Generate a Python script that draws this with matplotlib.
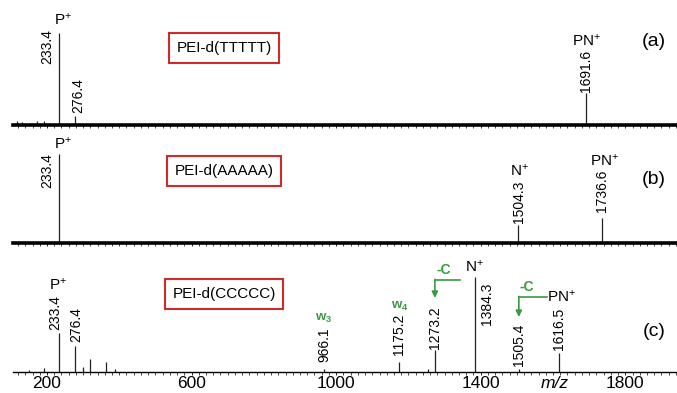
import matplotlib
matplotlib.use('Agg')
import matplotlib.pyplot as plt
from matplotlib.ticker import MultipleLocator, FixedLocator

plt.rcParams['font.family'] = ['Liberation Sans', 'DejaVu Sans']
plt.rcParams['mathtext.fontset'] = 'custom'
plt.rcParams['mathtext.rm'] = 'Liberation Sans'
plt.rcParams['mathtext.it'] = 'Liberation Sans:italic'
plt.rcParams['mathtext.default'] = 'regular'

# ── Data (m/z, relative intensity) ───────────────────────────────────────────
mz_a  = [117, 131, 172, 192, 233.4, 276.4, 1691.6]
int_a = [4, 3, 4, 4, 92, 9, 32]

mz_b  = [233.4, 1504.3, 1736.6]
int_b = [89, 18, 25]

mz_c  = [150, 192, 233.4, 276.4, 300, 319, 363, 388, 966.1, 1175.2,
         1254, 1273.2, 1384.3, 1505.4, 1616.5]
int_c = [2, 4, 39, 26, 5, 13, 10, 3, 3, 10, 3, 22, 95, 3, 19]

samples = ['PEI-d(TTTTT)', 'PEI-d(AAAAA)', 'PEI-d(CCCCC)']
panel_tags = ['(a)', '(b)', '(c)']

# labelled peaks: (m/z, ion label)
labels_a = [(233.4, 'P$^{+}$'), (276.4, ''), (1691.6, 'PN$^{+}$')]
labels_b = [(233.4, 'P$^{+}$'), (1504.3, 'N$^{+}$'), (1736.6, 'PN$^{+}$')]
labels_c = [(233.4, 'P$^{+}$'), (276.4, ''), (966.1, 'w$_3$'), (1175.2, 'w$_4$'),
            (1273.2, ''), (1384.3, 'N$^{+}$'), (1505.4, ''), (1616.5, 'PN$^{+}$')]

# neutral loss arrows: (parent m/z, fragment m/z, text)
losses_c = [(1384.3, 1273.2, '-C'), (1616.5, 1505.4, '-C')]

x_ticks = [200, 600, 1000, 1400, 1800]

# ── Styling (pixel offsets from peak top) ─────────────────────────────────────
# num: (dx, dy, va) ; ion: (dx, dy)
num_off = {
    ('a', 233.4): (-12, 4, 'top'), ('a', 276.4): (4, 3, 'bottom'),
    ('a', 1691.6): (0, 1, 'bottom'),
    ('b', 233.4): (-12, 1, 'top'), ('b', 1504.3): (1, 2, 'bottom'),
    ('b', 1736.6): (0, 6, 'bottom'),
    ('c', 233.4): (-4, 3, 'bottom'), ('c', 276.4): (2, 4, 'bottom'),
    ('c', 966.1): (0, 7, 'bottom'), ('c', 1175.2): (0, 7, 'bottom'),
    ('c', 1273.2): (0, 1, 'bottom'), ('c', 1384.3): (12, -6, 'top'),
    ('c', 1505.4): (0, 3, 'bottom'), ('c', 1616.5): (0, 3, 'bottom'),
}
ion_off = {
    ('a', 233.4): (4, 13), ('a', 1691.6): (0, 52),
    ('b', 233.4): (4, 10), ('b', 1504.3): (1, 54), ('b', 1736.6): (2, 57),
    ('c', 233.4): (-1, 48), ('c', 966.1): (0, 51), ('c', 1175.2): (0, 56),
    ('c', 1384.3): (-1, 10), ('c', 1616.5): (3, 56),
}
GREEN = '#3a9a3f'
RED = '#d02a2a'
PX = 0.72  # points per pixel at 100 dpi

W, H = 677, 393
fig = plt.figure(figsize=(W / 100, H / 100), dpi=100, facecolor='white')

baselines = [125, 243, 372]   # px from top
panels = [('a', mz_a, int_a, labels_a), ('b', mz_b, int_b, labels_b),
          ('c', mz_c, int_c, labels_c)]
box_y = [0.77, 0.72, 0.78]
tag_y = [0.83, 0.63, 0.41]
XMIN, XMAX = 106, 1943

axes = []
for i, (key, mz, inten, labs) in enumerate(panels):
    base = baselines[i]
    ax = fig.add_axes([13 / W, 1 - base / H, 664 / W, 100 / H])
    axes.append(ax)
    ax.set_xlim(XMIN, XMAX)
    ax.set_ylim(0, 100)
    ax.patch.set_alpha(0)

    ax.vlines(mz, 0, inten, color='#222222', lw=0.9)

    for s in ['left', 'right', 'top']:
        ax.spines[s].set_visible(False)
    ax.spines['bottom'].set_linewidth(2.6 if key != 'c' else 1.0)
    ax.set_yticks([])
    ax.xaxis.set_major_locator(FixedLocator(x_ticks))
    ax.xaxis.set_minor_locator(MultipleLocator(20))
    ax.tick_params(axis='x', which='major', length=2.2, width=0.6, pad=0.5,
                   labelsize=12.5)
    ax.tick_params(axis='x', which='minor', length=2.0, width=0.5)
    if key != 'c':
        ax.tick_params(axis='x', labelbottom=False)

    peak_h = dict(zip(mz, inten))
    for m, ion in labs:
        h = peak_h[m]
        dx, dy, va = num_off[(key, m)]
        ax.annotate(f'{m:.1f}', xy=(m, h), xytext=(dx * PX, dy * PX),
                    textcoords='offset points', rotation=90,
                    ha='center', va=va, fontsize=10)
        if ion:
            idx, idy = ion_off[(key, m)]
            green = ion.startswith('w')
            ax.annotate(ion, xy=(m, h), xytext=(idx * PX, idy * PX),
                        textcoords='offset points', ha='center',
                        va='center', fontsize=9.5 if green else 11,
                        color=GREEN if green else 'black',
                        fontweight='bold' if green else 'normal',
                        annotation_clip=False)

    ax.text(0.318, box_y[i], samples[i], transform=ax.transAxes,
            ha='center', va='center', fontsize=11,
            bbox=dict(boxstyle='square,pad=0.5', fc='white', ec=RED, lw=1.5))
    ax.text(0.965, tag_y[i], panel_tags[i], transform=ax.transAxes,
            ha='center', va='center', fontsize=14)

# neutral-loss arrows in (c)
axc = axes[2]
arrow_geo = [(41, 92, 74, 102, 25), (33, 75, 55, 85, 22)]  # start dx, y_h, y_end, text y, text dx
for (parent, frag, txt), (sdx, yh, ye, ty, tdx) in zip(losses_c, arrow_geo):
    axc.plot([parent - sdx, frag], [yh, yh], color=GREEN, lw=1.2,
             clip_on=False)
    axc.annotate('', xy=(frag, ye), xytext=(frag, yh + 0.6),
                 arrowprops=dict(arrowstyle='-|>', color=GREEN, lw=1.2,
                                 mutation_scale=9, shrinkA=0, shrinkB=0),
                 annotation_clip=False)
    axc.text(frag + tdx, ty, txt, color=GREEN, fontsize=10,
             fontweight='bold', ha='center', va='center')

axc.annotate('m/z', xy=(1606, 0), xytext=(0, -3.2), textcoords='offset points',
             style='italic', fontsize=12.5, ha='center', va='top')

fig.savefig('out.png', dpi=100, facecolor='white')
